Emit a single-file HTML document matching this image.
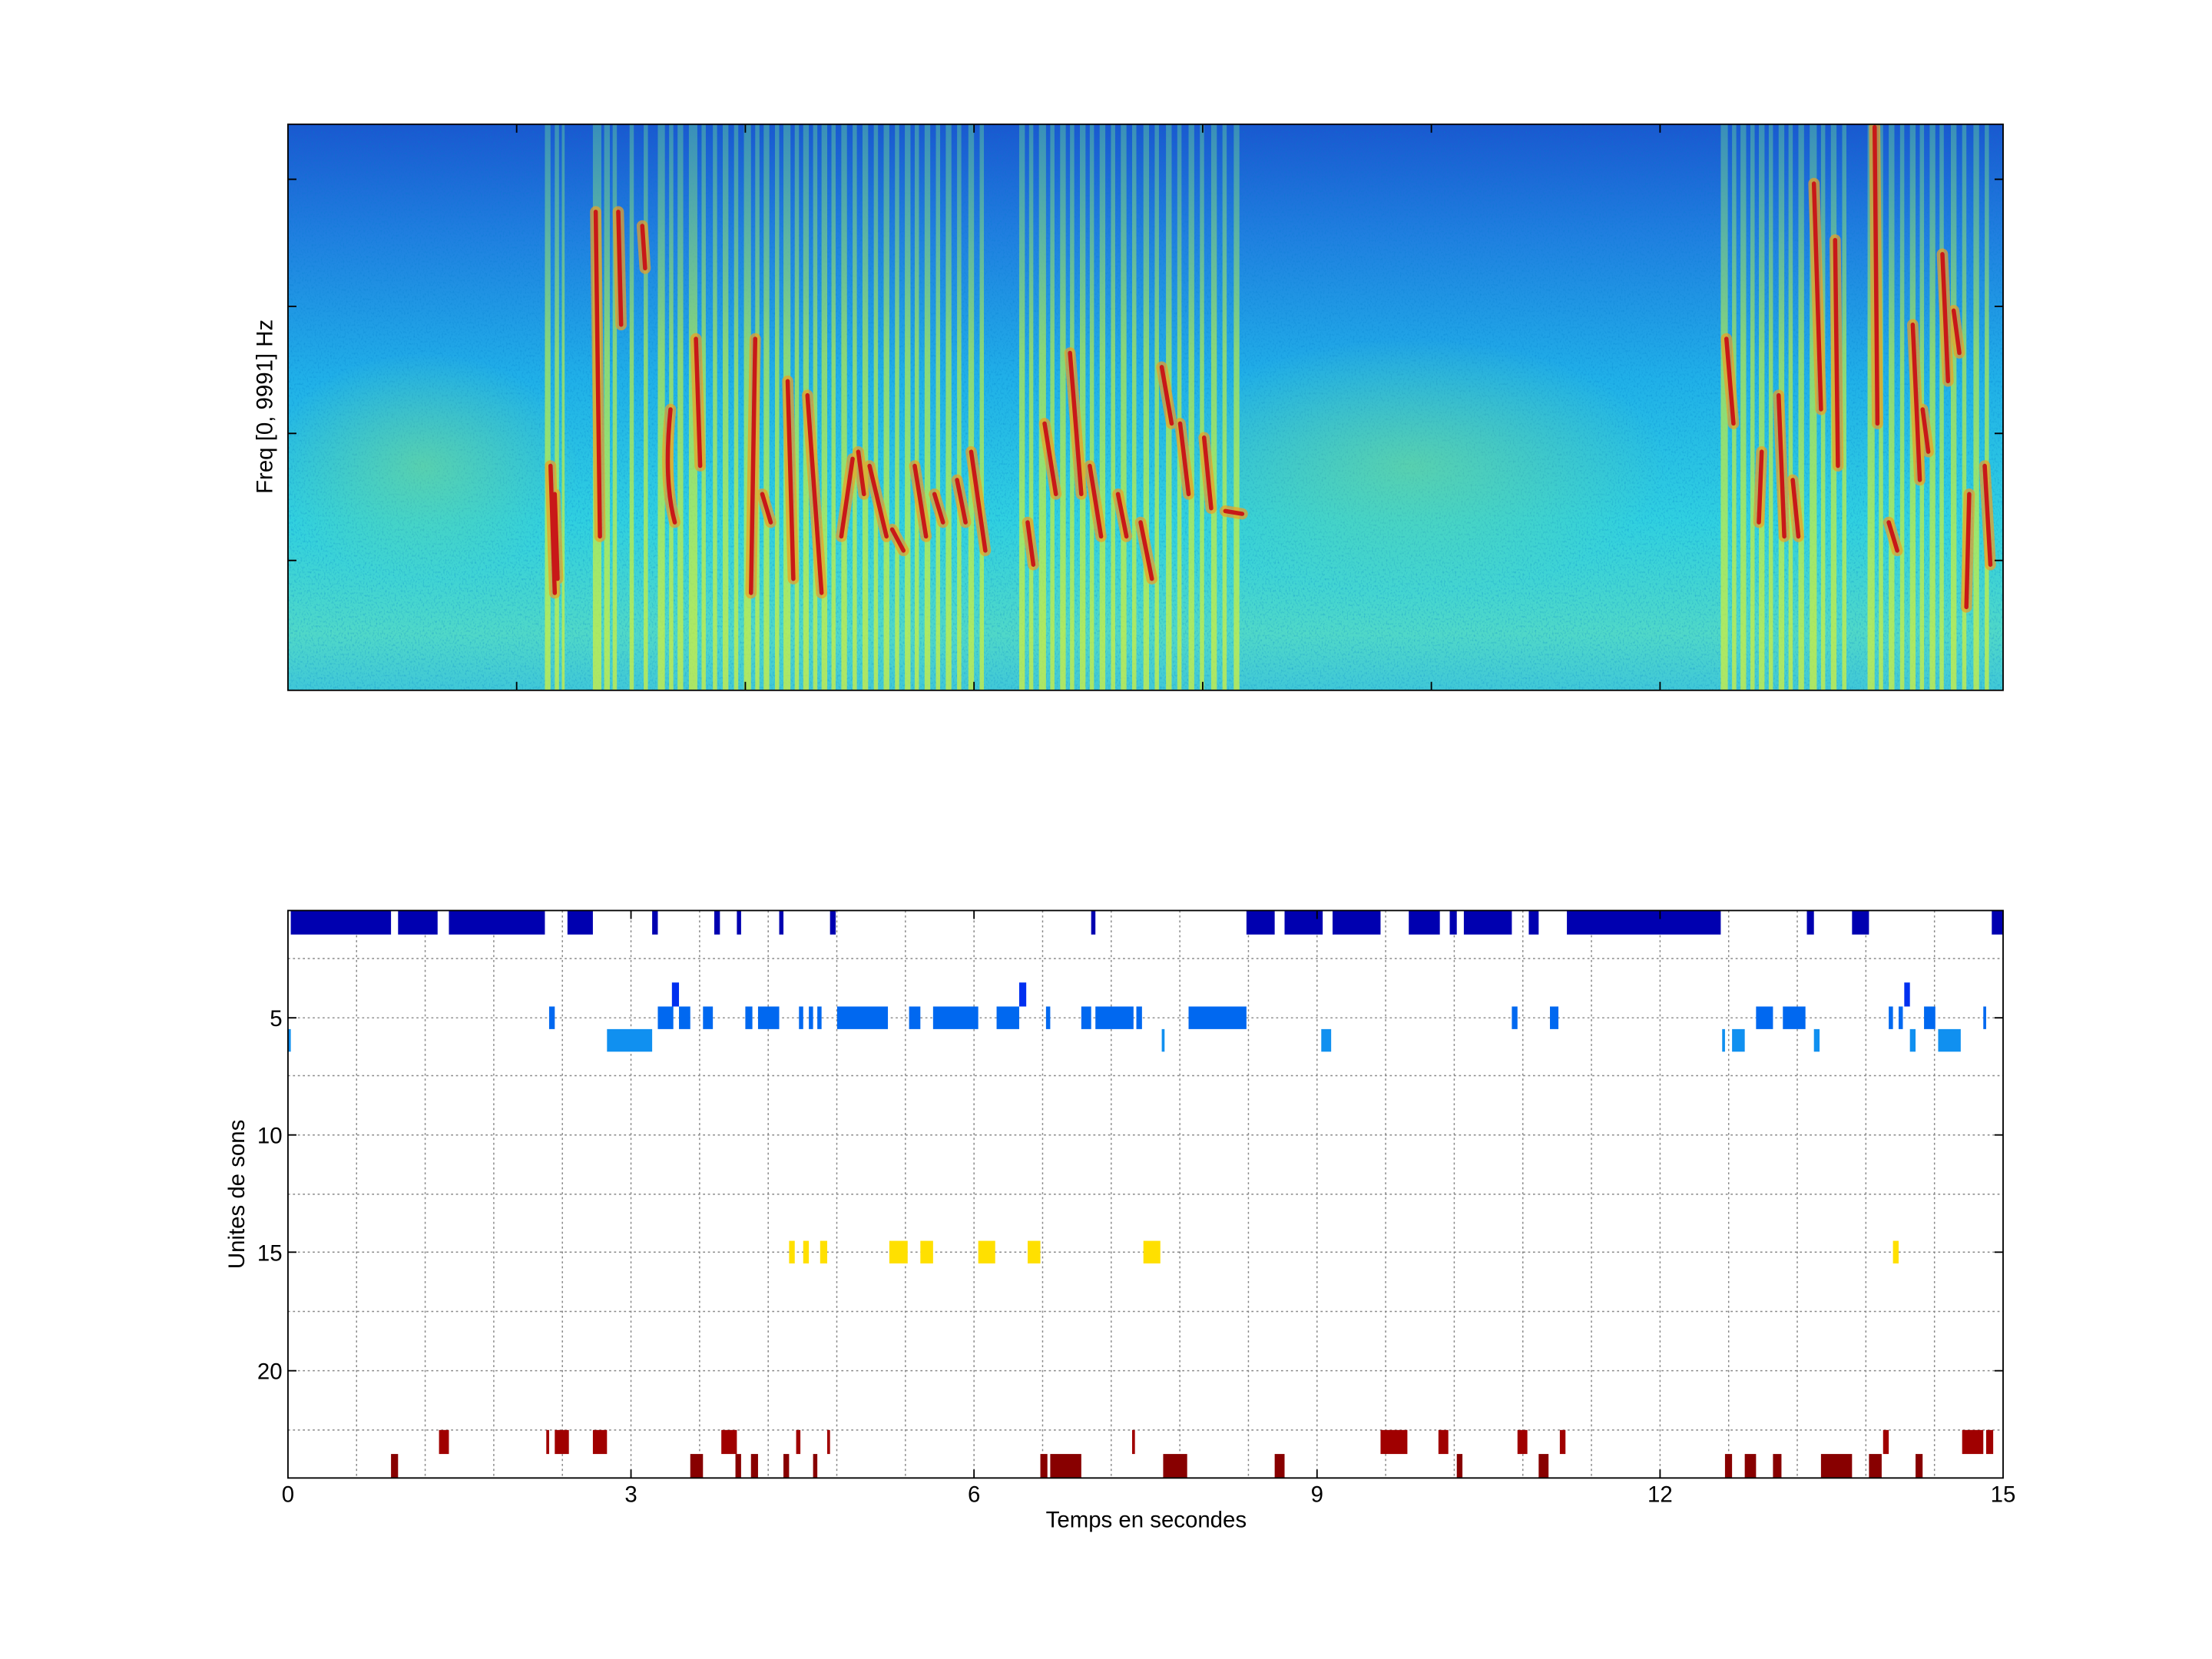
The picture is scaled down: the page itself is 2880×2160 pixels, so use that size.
<!DOCTYPE html>
<html><head><meta charset="utf-8"><style>html,body{margin:0;padding:0;background:#fff}svg{display:block}</style></head>
<body>
<svg xmlns="http://www.w3.org/2000/svg" width="2880" height="2160" viewBox="0 0 1567 1175.2" font-family="Liberation Sans, sans-serif">
<defs>
<linearGradient id="bg" x1="0" y1="0" x2="0" y2="1">
<stop offset="0" stop-color="#1a58d0"/><stop offset="0.2" stop-color="#2080e0"/>
<stop offset="0.45" stop-color="#20b0e8"/><stop offset="0.7" stop-color="#30d0e0"/>
<stop offset="0.9" stop-color="#50d8c8"/><stop offset="1" stop-color="#40c8d8"/>
</linearGradient>
<linearGradient id="st" x1="0" y1="0" x2="0" y2="1">
<stop offset="0" stop-color="#60d0a0" stop-opacity="0.45"/><stop offset="0.4" stop-color="#c0f040" stop-opacity="0.65"/>
<stop offset="1" stop-color="#d0f040" stop-opacity="0.75"/>
</linearGradient>
<radialGradient id="el"><stop offset="0" stop-color="#90e070" stop-opacity="0.45"/><stop offset="1" stop-color="#90e070" stop-opacity="0"/></radialGradient>
<filter id="nz" x="0" y="0" width="1" height="1">
<feTurbulence type="fractalNoise" baseFrequency="0.9 0.6" numOctaves="2" seed="3"/>
<feColorMatrix type="matrix" values="0 0 0 0 0  0 0 0 0 0.2  0 0 0 0 0.6  0 0 0 1.6 -0.8"/>
</filter>
<clipPath id="cp"><rect x="204" y="88" width="1215" height="401"/></clipPath>
</defs>
<g clip-path="url(#cp)">
<rect x="204" y="88" width="1215" height="401" fill="url(#bg)"/>
<rect x="204" y="88" width="1215" height="401" filter="url(#nz)" opacity="0.6"/>
<ellipse cx="300" cy="330" rx="110" ry="80" fill="url(#el)"/>
<ellipse cx="1000" cy="330" rx="180" ry="90" fill="url(#el)"/>
<g fill="url(#st)">
<rect x="386" y="88" width="4" height="401"/><rect x="393" y="88" width="3" height="401"/><rect x="398" y="88" width="2" height="401"/>
<rect x="420" y="88" width="6" height="401"/><rect x="428" y="88" width="4" height="401"/><rect x="434" y="88" width="3" height="401"/><rect x="446" y="88" width="3" height="401"/><rect x="456" y="88" width="3" height="401"/>
<rect x="466" y="88" width="5" height="401"/><rect x="474" y="88" width="3" height="401"/><rect x="480" y="88" width="4" height="401"/><rect x="488" y="88" width="6" height="401"/><rect x="497" y="88" width="3" height="401"/>
<rect x="505" y="88" width="3" height="401"/><rect x="512" y="88" width="4" height="401"/><rect x="520" y="88" width="3" height="401"/><rect x="527" y="88" width="5" height="401"/><rect x="535" y="88" width="3" height="401"/><rect x="541" y="88" width="4" height="401"/>
<rect x="549" y="88" width="3" height="401"/><rect x="555" y="88" width="5" height="401"/><rect x="563" y="88" width="3" height="401"/><rect x="569" y="88" width="4" height="401"/><rect x="576" y="88" width="3" height="401"/><rect x="582" y="88" width="4" height="401"/><rect x="589" y="88" width="3" height="401"/>
<rect x="596" y="88" width="4" height="401"/><rect x="604" y="88" width="3" height="401"/><rect x="611" y="88" width="4" height="401"/><rect x="619" y="88" width="3" height="401"/><rect x="626" y="88" width="4" height="401"/><rect x="634" y="88" width="3" height="401"/>
<rect x="641" y="88" width="4" height="401"/><rect x="648" y="88" width="3" height="401"/><rect x="655" y="88" width="4" height="401"/><rect x="663" y="88" width="3" height="401"/><rect x="670" y="88" width="4" height="401"/><rect x="678" y="88" width="3" height="401"/><rect x="686" y="88" width="4" height="401"/><rect x="694" y="88" width="3" height="401"/>
<rect x="722" y="88" width="4" height="401"/><rect x="729" y="88" width="3" height="401"/><rect x="736" y="88" width="5" height="401"/><rect x="744" y="88" width="3" height="401"/><rect x="751" y="88" width="4" height="401"/><rect x="758" y="88" width="3" height="401"/><rect x="765" y="88" width="4" height="401"/><rect x="772" y="88" width="3" height="401"/>
<rect x="779" y="88" width="4" height="401"/><rect x="787" y="88" width="3" height="401"/><rect x="794" y="88" width="4" height="401"/><rect x="802" y="88" width="3" height="401"/><rect x="810" y="88" width="4" height="401"/><rect x="818" y="88" width="3" height="401"/><rect x="826" y="88" width="4" height="401"/>
<rect x="834" y="88" width="3" height="401"/><rect x="842" y="88" width="4" height="401"/><rect x="850" y="88" width="3" height="401"/><rect x="858" y="88" width="4" height="401"/><rect x="866" y="88" width="3" height="401"/><rect x="874" y="88" width="4" height="401"/>
<rect x="1219" y="88" width="5" height="401"/><rect x="1227" y="88" width="3" height="401"/><rect x="1233" y="88" width="4" height="401"/><rect x="1240" y="88" width="3" height="401"/><rect x="1246" y="88" width="4" height="401"/><rect x="1253" y="88" width="3" height="401"/><rect x="1260" y="88" width="4" height="401"/>
<rect x="1267" y="88" width="3" height="401"/><rect x="1274" y="88" width="4" height="401"/><rect x="1282" y="88" width="5" height="401"/><rect x="1290" y="88" width="3" height="401"/><rect x="1297" y="88" width="4" height="401"/><rect x="1305" y="88" width="3" height="401"/>
<rect x="1323" y="88" width="5" height="401"/><rect x="1331" y="88" width="3" height="401"/><rect x="1338" y="88" width="4" height="401"/><rect x="1346" y="88" width="3" height="401"/><rect x="1353" y="88" width="4" height="401"/><rect x="1360" y="88" width="3" height="401"/><rect x="1367" y="88" width="4" height="401"/>
<rect x="1374" y="88" width="3" height="401"/><rect x="1382" y="88" width="4" height="401"/><rect x="1390" y="88" width="3" height="401"/><rect x="1398" y="88" width="4" height="401"/><rect x="1406" y="88" width="3" height="401"/>
</g>
<g fill="none" stroke-linecap="round">
<g stroke="#f0a020" stroke-width="8" opacity="0.7">
<path d="M390 330 L393 420"/><path d="M393 350 L395 410"/><path d="M422 150 L425 380"/><path d="M438 150 L440 230"/><path d="M455 160 L457 190"/>
<path d="M475 290 Q470 340 478 370"/><path d="M493 240 L496 330"/><path d="M535 240 L532 420"/><path d="M540 350 L546 370"/><path d="M558 270 L562 410"/><path d="M572 280 L582 420"/>
<path d="M596 380 L604 325"/><path d="M608 320 L612 350"/><path d="M616 330 L628 380"/><path d="M632 375 L640 390"/><path d="M648 330 L656 380"/><path d="M662 350 L668 370"/><path d="M678 340 L684 370"/><path d="M688 320 L698 390"/>
<path d="M728 370 L732 400"/><path d="M740 300 L748 350"/><path d="M758 250 L766 350"/><path d="M772 330 L780 380"/><path d="M792 350 L798 380"/><path d="M808 370 L816 410"/><path d="M823 260 L830 300"/><path d="M836 300 L842 350"/><path d="M853 310 L858 360"/><path d="M868 362 L880 364"/>
<path d="M1223 240 L1228 300"/><path d="M1248 320 L1246 370"/><path d="M1260 280 L1264 380"/><path d="M1270 340 L1274 380"/><path d="M1285 130 L1290 290"/><path d="M1300 170 L1302 330"/><path d="M1328 90 L1330 300"/><path d="M1338 370 L1344 390"/><path d="M1355 230 L1360 340"/><path d="M1362 290 L1366 320"/><path d="M1376 180 L1380 270"/><path d="M1384 220 L1388 250"/><path d="M1395 350 L1393 430"/><path d="M1406 330 L1410 400"/>
</g>
<g stroke="#c81818" stroke-width="3">
<path d="M390 330 L393 420"/><path d="M393 350 L395 410"/><path d="M422 150 L425 380"/><path d="M438 150 L440 230"/><path d="M455 160 L457 190"/>
<path d="M475 290 Q470 340 478 370"/><path d="M493 240 L496 330"/><path d="M535 240 L532 420"/><path d="M540 350 L546 370"/><path d="M558 270 L562 410"/><path d="M572 280 L582 420"/>
<path d="M596 380 L604 325"/><path d="M608 320 L612 350"/><path d="M616 330 L628 380"/><path d="M632 375 L640 390"/><path d="M648 330 L656 380"/><path d="M662 350 L668 370"/><path d="M678 340 L684 370"/><path d="M688 320 L698 390"/>
<path d="M728 370 L732 400"/><path d="M740 300 L748 350"/><path d="M758 250 L766 350"/><path d="M772 330 L780 380"/><path d="M792 350 L798 380"/><path d="M808 370 L816 410"/><path d="M823 260 L830 300"/><path d="M836 300 L842 350"/><path d="M853 310 L858 360"/><path d="M868 362 L880 364"/>
<path d="M1223 240 L1228 300"/><path d="M1248 320 L1246 370"/><path d="M1260 280 L1264 380"/><path d="M1270 340 L1274 380"/><path d="M1285 130 L1290 290"/><path d="M1300 170 L1302 330"/><path d="M1328 90 L1330 300"/><path d="M1338 370 L1344 390"/><path d="M1355 230 L1360 340"/><path d="M1362 290 L1366 320"/><path d="M1376 180 L1380 270"/><path d="M1384 220 L1388 250"/><path d="M1395 350 L1393 430"/><path d="M1406 330 L1410 400"/>
</g></g>
</g>
<rect x="204" y="88" width="1215" height="401" fill="none" stroke="#000" stroke-width="1"/>
<g stroke="#000" stroke-width="1">
<path d="M204 127h6M204 217h6M204 307h6M204 397h6M1419 127h-6M1419 217h-6M1419 307h-6M1419 397h-6"/>
<path d="M366 489v-6M528 489v-6M690 489v-6M852 489v-6M1014 489v-6M1176 489v-6M366 88v6M528 88v6M690 88v6M852 88v6M1014 88v6M1176 88v6"/>
</g>
<text x="193" y="288" font-size="16" text-anchor="middle" transform="rotate(-90 193 288)">Freq [0, 9991] Hz</text>

<g stroke="#888" stroke-width="0.8" stroke-dasharray="1.5 2">
<path d="M204 679H1419M204 721H1419M204 762H1419M204 804H1419M204 846H1419M204 887H1419M204 929H1419M204 971H1419M204 1013H1419"/>
<path d="M252.6 645V1047M301.2 645V1047M349.8 645V1047M398.4 645V1047M447 645V1047M495.6 645V1047M544.2 645V1047M592.8 645V1047M641.4 645V1047M690 645V1047M738.6 645V1047M787.2 645V1047M835.8 645V1047M884.4 645V1047M933 645V1047M981.6 645V1047M1030.2 645V1047M1078.8 645V1047M1127.4 645V1047M1176 645V1047M1224.6 645V1047M1273.2 645V1047M1321.8 645V1047M1370.4 645V1047"/>
</g>
<g fill="#0000b0">
<rect x="206" y="645" width="71" height="17"/><rect x="282" y="645" width="28" height="17"/><rect x="318" y="645" width="68" height="17"/><rect x="402" y="645" width="18" height="17"/><rect x="462" y="645" width="4" height="17"/><rect x="506" y="645" width="4" height="17"/><rect x="522" y="645" width="3" height="17"/><rect x="552" y="645" width="3" height="17"/><rect x="588" y="645" width="4" height="17"/><rect x="773" y="645" width="3" height="17"/><rect x="883" y="645" width="20" height="17"/><rect x="910" y="645" width="27" height="17"/><rect x="944" y="645" width="34" height="17"/><rect x="998" y="645" width="22" height="17"/><rect x="1027" y="645" width="5" height="17"/><rect x="1037" y="645" width="34" height="17"/><rect x="1083" y="645" width="7" height="17"/><rect x="1110" y="645" width="109" height="17"/><rect x="1280" y="645" width="5" height="17"/><rect x="1312" y="645" width="12" height="17"/><rect x="1411" y="645" width="8" height="17"/>
</g>
<g fill="#0030f0">
<rect x="476" y="696" width="5" height="17"/><rect x="722" y="696" width="5" height="17"/><rect x="1349" y="696" width="4" height="17"/>
</g>
<g fill="#0068f0">
<rect x="389" y="713" width="4" height="16"/><rect x="466" y="713" width="11" height="16"/><rect x="481" y="713" width="8" height="16"/><rect x="498" y="713" width="7" height="16"/><rect x="528" y="713" width="5" height="16"/><rect x="537" y="713" width="15" height="16"/><rect x="566" y="713" width="3" height="16"/><rect x="573" y="713" width="3" height="16"/><rect x="579" y="713" width="3" height="16"/><rect x="593" y="713" width="36" height="16"/><rect x="644" y="713" width="8" height="16"/><rect x="661" y="713" width="32" height="16"/><rect x="706" y="713" width="16" height="16"/><rect x="741" y="713" width="3" height="16"/><rect x="766" y="713" width="7" height="16"/><rect x="776" y="713" width="27" height="16"/><rect x="805" y="713" width="4" height="16"/><rect x="842" y="713" width="41" height="16"/><rect x="1071" y="713" width="4" height="16"/><rect x="1098" y="713" width="6" height="16"/><rect x="1244" y="713" width="12" height="16"/><rect x="1263" y="713" width="16" height="16"/><rect x="1338" y="713" width="3" height="16"/><rect x="1345" y="713" width="3" height="16"/><rect x="1363" y="713" width="8" height="16"/><rect x="1405" y="713" width="2" height="16"/>
</g>
<g fill="#1090f0">
<rect x="204" y="729" width="2" height="16"/><rect x="430" y="729" width="32" height="16"/><rect x="823" y="729" width="2" height="16"/><rect x="936" y="729" width="7" height="16"/><rect x="1220" y="729" width="2" height="16"/><rect x="1227" y="729" width="9" height="16"/><rect x="1285" y="729" width="4" height="16"/><rect x="1353" y="729" width="4" height="16"/><rect x="1373" y="729" width="16" height="16"/>
</g>
<g fill="#ffe000">
<rect x="559" y="879" width="4" height="16"/><rect x="569" y="879" width="4" height="16"/><rect x="581" y="879" width="5" height="16"/><rect x="630" y="879" width="13" height="16"/><rect x="652" y="879" width="9" height="16"/><rect x="693" y="879" width="12" height="16"/><rect x="728" y="879" width="9" height="16"/><rect x="810" y="879" width="12" height="16"/><rect x="1341" y="879" width="4" height="16"/>
</g>
<g fill="#a00000">
<rect x="311" y="1013" width="7" height="17"/><rect x="387" y="1013" width="2" height="17"/><rect x="393" y="1013" width="10" height="17"/><rect x="420" y="1013" width="10" height="17"/><rect x="511" y="1013" width="11" height="17"/><rect x="564" y="1013" width="3" height="17"/><rect x="586" y="1013" width="2" height="17"/><rect x="802" y="1013" width="2" height="17"/><rect x="978" y="1013" width="19" height="17"/><rect x="1019" y="1013" width="7" height="17"/><rect x="1075" y="1013" width="7" height="17"/><rect x="1105" y="1013" width="4" height="17"/><rect x="1334" y="1013" width="4" height="17"/><rect x="1390" y="1013" width="15" height="17"/><rect x="1407" y="1013" width="5" height="17"/>
</g>
<g fill="#880000">
<rect x="277" y="1030" width="5" height="17"/><rect x="489" y="1030" width="9" height="17"/><rect x="521" y="1030" width="4" height="17"/><rect x="532" y="1030" width="5" height="17"/><rect x="555" y="1030" width="4" height="17"/><rect x="576" y="1030" width="3" height="17"/><rect x="737" y="1030" width="5" height="17"/><rect x="744" y="1030" width="22" height="17"/><rect x="824" y="1030" width="17" height="17"/><rect x="903" y="1030" width="7" height="17"/><rect x="1032" y="1030" width="4" height="17"/><rect x="1090" y="1030" width="7" height="17"/><rect x="1222" y="1030" width="5" height="17"/><rect x="1236" y="1030" width="8" height="17"/><rect x="1256" y="1030" width="6" height="17"/><rect x="1290" y="1030" width="22" height="17"/><rect x="1324" y="1030" width="9" height="17"/><rect x="1357" y="1030" width="5" height="17"/>
</g>
<rect x="204" y="645" width="1215" height="402" fill="none" stroke="#000" stroke-width="1"/>
<g stroke="#000" stroke-width="1">
<path d="M204 721h6M204 804h6M204 887h6M204 971h6M1419 721h-6M1419 804h-6M1419 887h-6M1419 971h-6"/>
<path d="M447 1047v-6M690 1047v-6M933 1047v-6M1176 1047v-6M447 645v6M690 645v6M933 645v6M1176 645v6"/>
</g>
<g font-size="16" text-anchor="end">
<text x="200" y="727">5</text><text x="200" y="810">10</text><text x="200" y="893">15</text><text x="200" y="977">20</text>
</g>
<g font-size="16" text-anchor="middle">
<text x="204" y="1064">0</text><text x="447" y="1064">3</text><text x="690" y="1064">6</text><text x="933" y="1064">9</text><text x="1176" y="1064">12</text><text x="1419" y="1064">15</text>
<text x="812" y="1082">Temps en secondes</text>
<text x="173" y="846" transform="rotate(-90 173 846)">Unites de sons</text>
</g>
</svg>
</body></html>
